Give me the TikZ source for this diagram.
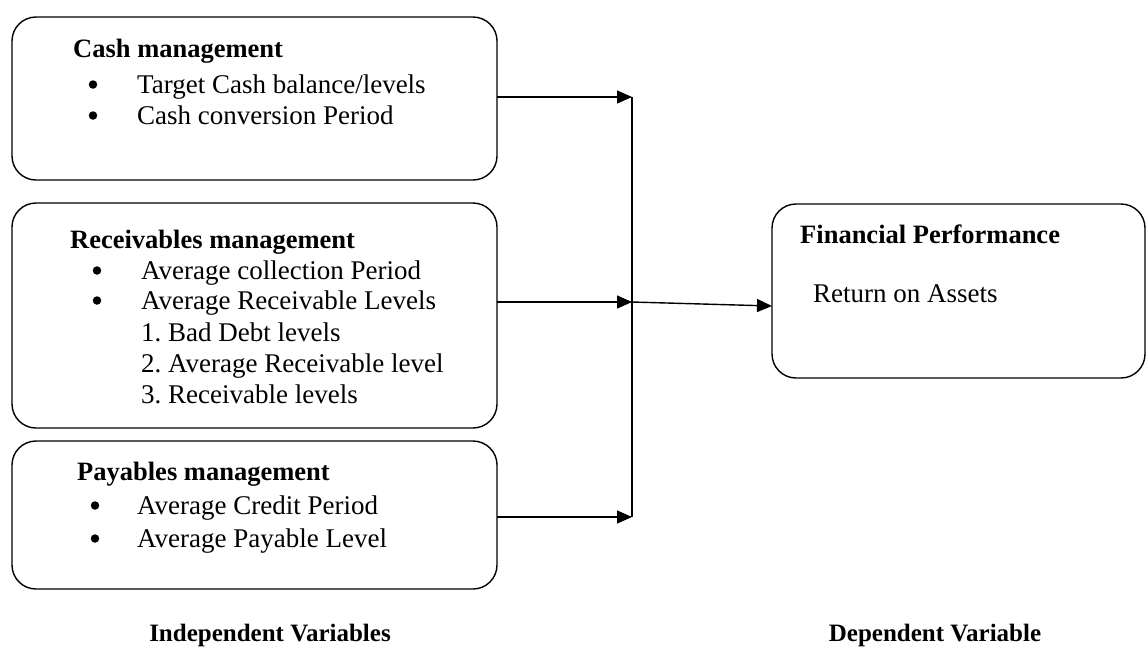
\documentclass[tikz,border=0pt]{standalone}
\usepackage{fontspec}
\setmainfont{Liberation Serif}
\usetikzlibrary{arrows.meta}
\frenchspacing
\begin{document}
\begin{tikzpicture}[x=1pt,y=-1pt,
  box/.style={draw, line width=1.4pt, rounded corners=24pt, inner sep=0pt, outer sep=0pt},
  txt/.style={font=\fontsize{27}{30}\selectfont, anchor=west, inner sep=0pt, text height=17pt, text depth=5pt},
  ttl/.style={txt, font=\fontsize{26.5}{30}\selectfont\bfseries},
  lbl/.style={txt, anchor=center, font=\fontsize{25}{30}\selectfont\bfseries},
  bul/.style={circle, fill=black, inner sep=0pt, minimum size=8.5pt, yshift=2.5pt},
  ln/.style={line width=1.4pt},
  arr/.style={line width=1.4pt, -{Triangle[length=15pt,width=13pt]}}]
\useasboundingbox (0,0) rectangle (1147,646);

% boxes
\node[box, minimum width=485pt, minimum height=163pt] (b1) at (254.5,98.5) {};
\node[box, minimum width=485pt, minimum height=225pt] (b2) at (254.5,315.5) {};
\node[box, minimum width=485pt, minimum height=148pt] (b3) at (254.5,515) {};
\node[box, minimum width=373pt, minimum height=174pt] (b4) at (958.5,291) {};

% box 1
\node[ttl] (t1) at (73,51) {Cash management};
\node[bul] (d11) at (93,87) {};
\node[txt] (i11) at (137,87) {Target Cash balance/levels};
\node[bul] (d12) at (93,118) {};
\node[txt] (i12) at (137,118) {Cash conversion Period};

% box 2
\node[ttl] (t2) at (70,242) {Receivables management};
\node[bul] (d21) at (97,273) {};
\node[txt] (i21) at (141,273) {Average collection Period};
\node[bul] (d22) at (97,303) {};
\node[txt] (i22) at (141,303) {Average Receivable Levels};
\node[txt] (i23) at (141,335) {1. Bad Debt levels};
\node[txt] (i24) at (141,366) {2. Average Receivable level};
\node[txt] (i25) at (141,397) {3. Receivable levels};

% box 3
\node[ttl] (t3) at (77,474) {Payables management};
\node[bul] (d31) at (95,508) {};
\node[txt] (i31) at (137,508) {Average Credit Period};
\node[bul] (d32) at (95,541) {};
\node[txt] (i32) at (137,541) {Average Payable Level};

% box 4
\node[ttl] (t4) at (800,237) {Financial Performance};
\node[txt] (i41) at (813,296) {Return on Assets};

% bottom labels
\node[lbl] (l1) at (270,635) {Independent Variables};
\node[lbl] (l2) at (935,635) {Dependent Variable};

% connectors
\coordinate (j1) at (632,97);
\coordinate (j2) at (632,302);
\coordinate (j3) at (632,517);
\coordinate (e4) at (772,306);
\draw[arr] (b1.east |- j1) -- (j1);
\draw[arr] (b2.east |- j2) -- (j2);
\draw[arr] (b3.east |- j3) -- (j3);
\draw[ln] (j1) -- (j3);
\draw[arr] (j2) -- (e4);
\end{tikzpicture}
\end{document}
